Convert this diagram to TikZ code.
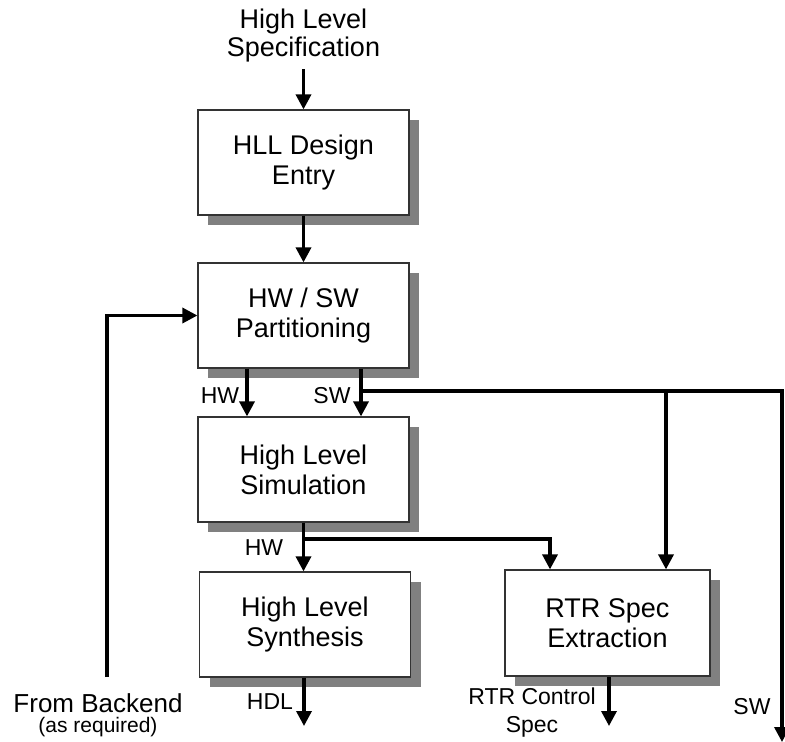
\documentclass[tikz,border=0pt]{standalone}
\usepackage{fontspec}
\setmainfont{Liberation Sans}
\usetikzlibrary{arrows.meta,shadows,calc}
\definecolor{flowBoxLine}{HTML}{333333}
\definecolor{flowShade}{HTML}{808080}

\tikzset{
  stage/.style={draw=flowBoxLine, line width=1.2pt, fill=white,
    minimum width=211pt, minimum height=105pt, inner sep=0pt,
    align=center, font=\fontsize{27}{30}\selectfont,
    drop shadow={shadow xshift=10pt, shadow yshift=-10pt,
      fill=flowShade, opacity=1}},
  flow/.style={line width=3.4pt, -{Triangle[length=15pt,width=15pt]}},
  tag/.style={font=\fontsize{23}{27}\selectfont, align=center, inner sep=0pt},
}

\begin{document}
\begin{tikzpicture}[x=1pt, y=-1pt]

\useasboundingbox (0,0) rectangle (785,742);

\def\xMain{303.5}     % centre line of the left column
\def\xHW{247}         % HW tap out of partitioning
\def\xSW{361}         % SW tap out of partitioning
\def\yBus{391}        % SW bus
\def\yFork{539}       % HW fork below simulation

% --- STAGES ---
\node[stage] (entry) at (\xMain,162.5) {HLL Design\\Entry};
\node[stage] (part)  at (\xMain,315.5) {HW / SW\\Partitioning};
\node[stage] (sim)   at (\xMain,469.5) {High Level\\Simulation};
\node[stage] (synth) at (305,624.5)    {High Level\\Synthesis};
\node[stage, minimum width=205pt, minimum height=106pt]
  (rtr) at (607.5,623) {RTR Spec\\Extraction};

% --- HELPER POINTS ---
\coordinate (specOut) at (\xMain,69);
\coordinate (backOut) at (107,677);
\coordinate (hwTap)   at (\xHW,0);
\coordinate (swTap)   at (\xSW,0);
\coordinate (swFork)  at (\xSW,\yBus);
\coordinate (hwFork)  at (\xMain,\yFork);
\coordinate (rtrHW)   at (550,0);
\coordinate (rtrSW)   at (666,0);
\coordinate (swOut)   at (782,742);
\coordinate (hdlOut)  at (304,726);
\coordinate (ctlOut)  at (609,726);

% --- MAIN FLOW ---
\draw[flow] (specOut) -- (entry.north);
\draw[flow] (entry.south) -- (part.north);
\draw[flow] (part.south -| hwTap) -- (sim.north -| hwTap);
\draw[flow] (part.south -| swTap) -- (sim.north -| swTap);
\draw[flow] (sim.south) -- (sim.south |- synth.north);
\draw[flow] (hwFork) -| (rtr.north -| rtrHW);
\draw[flow] (backOut) |- (part.west);

% --- SW BUS ---
\draw[flow] (swFork) -| (swOut);
\draw[flow] (swFork -| rtrSW) -- (rtr.north -| rtrSW);

% --- OUTPUTS ---
\draw[flow] (synth.south -| hdlOut) -- (hdlOut);
\draw[flow] (rtr.south -| ctlOut) -- (ctlOut);

% --- LABELS ---
\node[tag, font=\fontsize{27}{28}\selectfont] (specTxt) at (\xMain,36)
  {High Level\\Specification};
\node[tag] (hwTxt1) at (220,396) {HW};
\node[tag] (swTxt1) at (332,396) {SW};
\node[tag] (hwTxt2) at (264,548) {HW};
\node[tag] (hdlTxt) at (270,702) {HDL};
\node[tag, font=\fontsize{23}{28}\selectfont] (ctlTxt) at (532,713)
  {RTR Control\\Spec};
\node[tag] (swTxt2) at (752,707) {SW};
\node[tag, font=\fontsize{26}{28}\selectfont] (backTxt) at (98,703) {From Backend};
\node[tag, font=\fontsize{21}{24}\selectfont] (reqTxt) at (98,727) {(as required)};

\end{tikzpicture}
\end{document}
